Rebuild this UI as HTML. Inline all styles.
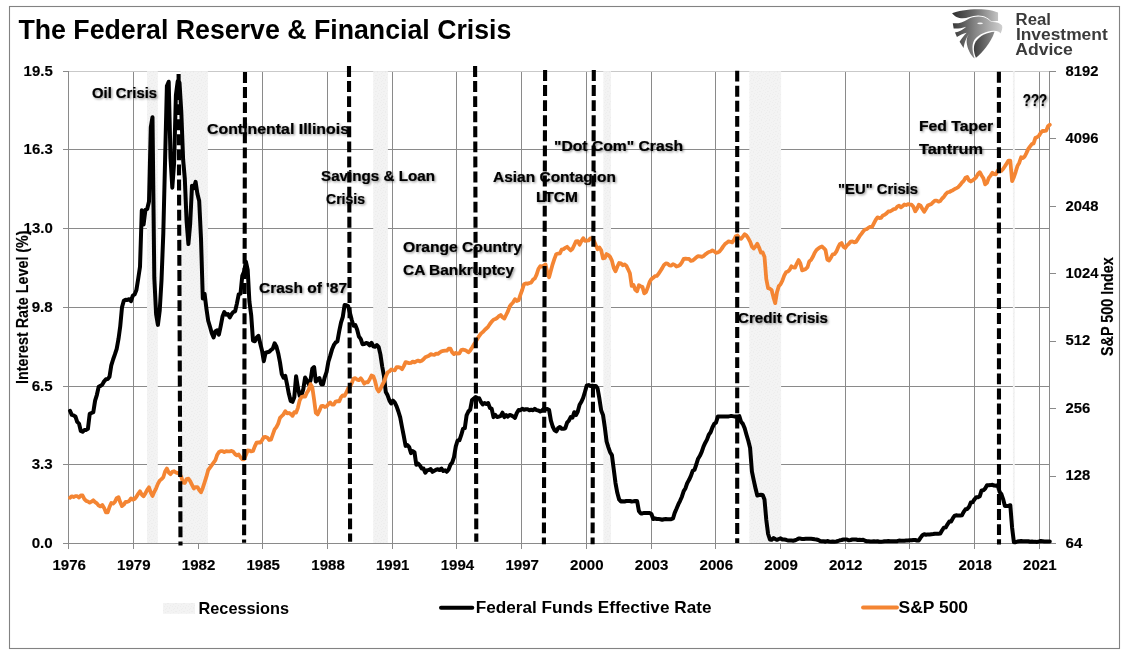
<!DOCTYPE html>
<html><head><meta charset="utf-8"><title>The Federal Reserve &amp; Financial Crisis</title>
<style>
html,body{margin:0;padding:0;background:#fff;}
body{width:1127px;height:656px;overflow:hidden;font-family:"Liberation Sans",sans-serif;}
svg{display:block;will-change:transform;}
text{font-family:"Liberation Sans",sans-serif;font-weight:bold;fill:#000;}
.ax{font-size:15.5px;stroke:#000;stroke-width:0.15px;}
.lb{font-size:15px;}
.lg{font-size:16.9px;}
</style></head><body>
<svg width="1127" height="656" viewBox="0 0 1127 656">
<defs>
<filter id="sh" x="-10%" y="-30%" width="130%" height="180%"><feDropShadow dx="1.2" dy="1.2" stdDeviation="0.8" flood-color="#000" flood-opacity="0.42"/></filter>
<pattern id="dots" width="8" height="8" patternUnits="userSpaceOnUse"><rect width="8" height="8" fill="#f3f3f3"/><g fill="#ededed"><rect x="1" y="0" width="1" height="1"/><rect x="5" y="1" width="1" height="1"/><rect x="3" y="2" width="1" height="1"/><rect x="7" y="3" width="1" height="1"/><rect x="0" y="3" width="1" height="1"/><rect x="2" y="5" width="1" height="1"/><rect x="5" y="4" width="1" height="1"/><rect x="4" y="6" width="1" height="1"/><rect x="7" y="6" width="1" height="1"/><rect x="1" y="7" width="1" height="1"/><rect x="6" y="0" width="1" height="1"/></g></pattern>
<linearGradient id="lgA" gradientUnits="userSpaceOnUse" x1="80" y1="0" x2="600" y2="0"><stop offset="0" stop-color="#2e2e2e"/><stop offset="0.5" stop-color="#6e6e6e"/><stop offset="1" stop-color="#c4c4c4"/></linearGradient>
<linearGradient id="lgB" gradientUnits="userSpaceOnUse" x1="90" y1="0" x2="650" y2="0"><stop offset="0" stop-color="#3a3a3a"/><stop offset="0.45" stop-color="#858585"/><stop offset="1" stop-color="#d0d0d0"/></linearGradient>
<linearGradient id="lgC" gradientUnits="userSpaceOnUse" x1="320" y1="0" x2="560" y2="0"><stop offset="0" stop-color="#3c3c3c"/><stop offset="1" stop-color="#8c8c8c"/></linearGradient>
<linearGradient id="lg1" x1="0" y1="0" x2="1" y2="0"><stop offset="0" stop-color="#555"/><stop offset="1" stop-color="#bbb"/></linearGradient>
</defs>
<rect x="0" y="0" width="1127" height="656" fill="#fff"/>
<rect x="9.5" y="6.5" width="1110" height="642" fill="#fff" stroke="#828282" stroke-width="1.1"/>

<path d="M68.5 71.5 V549 M133.5 71.5 V549 M198.5 71.5 V549 M262.5 71.5 V549 M327.5 71.5 V549 M392.5 71.5 V549 M456.5 71.5 V549 M521.5 71.5 V549 M586.5 71.5 V549 M651.5 71.5 V549 M715.5 71.5 V549 M780.5 71.5 V549 M845.5 71.5 V549 M909.5 71.5 V549 M974.5 71.5 V549 M1039.5 71.5 V549 M1049.5 71.5 V543.5 M63 71.5 H1050 M63 149.5 H1050 M63 228.5 H1050 M63 307.5 H1050 M63 386.5 H1050 M63 464.5 H1050 M63 543.5 H1050 M1049 71.5 H1055.5 M1049 138.5 H1055.5 M1049 206.5 H1055.5 M1049 273.5 H1055.5 M1049 341.5 H1055.5 M1049 408.5 H1055.5 M1049 476.5 H1055.5 M1049 543.5 H1055.5" stroke="#8a8a8a" stroke-width="1" fill="none" shape-rendering="crispEdges"/>
<path d="M69 71.5 H1049" stroke="#c9c9c9" stroke-width="1" fill="none" shape-rendering="crispEdges"/>
<rect x="147" y="71.2" width="10.8" height="471.8" fill="url(#dots)"/>
<rect x="180.6" y="71.2" width="27.3" height="471.8" fill="url(#dots)"/>
<rect x="373.2" y="71.2" width="14.7" height="471.8" fill="url(#dots)"/>
<rect x="603.3" y="71.2" width="7.7" height="471.8" fill="url(#dots)"/>
<rect x="749.3" y="71.2" width="31.8" height="471.8" fill="url(#dots)"/>
<rect x="1012.9" y="71.2" width="1.9" height="471.8" fill="url(#dots)"/>
<polyline points="70.0,410.8 71.8,414.9 73.6,415.4 75.4,416.4 77.2,421.9 79.0,423.6 80.8,430.9 82.6,431.8 84.4,430.1 86.2,429.9 87.9,428.9 89.7,413.9 91.5,413.0 93.3,412.2 95.1,400.6 96.9,394.8 98.7,386.8 100.5,385.9 102.3,384.6 104.1,381.3 105.9,379.3 107.7,379.1 109.5,376.7 111.3,365.3 113.1,359.5 114.9,354.4 116.7,348.8 118.5,338.9 120.2,326.6 122.0,307.2 123.8,300.7 125.6,299.7 127.4,299.9 129.2,299.2 131.0,301.2 132.8,295.6 134.6,294.4 136.4,290.0 138.2,278.7 140.0,266.8 141.8,210.2 143.6,224.4 145.4,209.9 147.2,209.0 149.0,201.5 150.8,127.4 152.5,117.2 154.3,277.7 156.1,314.2 157.9,324.9 159.7,310.8 161.5,280.3 163.3,233.4 165.1,159.8 166.9,86.0 168.7,81.7 170.5,157.9 172.3,187.7 174.1,163.0 175.9,95.2 177.7,81.2 179.5,82.6 181.3,112.2 183.1,159.3 184.8,178.5 186.6,221.3 188.4,244.0 190.2,223.5 192.0,185.7 193.8,188.1 195.6,181.9 197.4,193.7 199.2,201.0 201.0,238.7 202.8,298.5 204.6,293.9 206.4,308.4 208.2,320.8 210.0,326.8 211.8,333.3 213.6,337.5 215.4,331.2 217.1,330.4 218.9,334.6 220.7,326.1 222.5,316.6 224.3,312.0 226.1,314.7 227.9,314.0 229.7,317.4 231.5,314.2 233.3,312.0 235.1,311.3 236.9,303.6 238.7,294.4 240.5,293.7 242.3,275.7 244.1,271.6 245.9,261.7 247.7,269.9 249.4,301.6 251.2,315.2 253.0,340.6 254.8,341.3 256.6,337.7 258.4,335.8 260.2,343.3 262.0,350.5 263.8,361.2 265.6,352.7 267.4,352.2 269.2,351.7 271.0,350.0 272.8,348.6 274.6,343.3 276.4,346.4 278.2,353.2 280.0,362.4 281.8,374.2 283.5,377.6 285.3,375.9 287.1,384.6 288.9,394.1 290.7,400.9 292.5,401.8 294.3,397.2 296.1,376.2 297.9,387.8 299.7,395.8 301.5,395.1 303.3,389.2 305.1,377.6 306.9,380.5 308.7,384.2 310.5,380.5 312.3,368.7 314.1,367.0 315.8,381.5 317.6,379.6 319.4,378.1 321.2,384.2 323.0,384.2 324.8,377.1 326.6,371.8 328.4,361.7 330.2,355.9 332.0,349.6 333.8,345.2 335.6,342.5 337.4,341.3 339.2,331.4 341.0,322.7 342.8,316.9 344.6,305.0 346.4,305.3 348.1,306.0 349.9,312.8 351.7,319.8 353.5,325.8 355.3,325.1 357.1,329.5 358.9,336.5 360.7,338.9 362.5,344.2 364.3,344.0 366.1,343.0 367.9,343.5 369.7,345.4 371.5,342.8 373.3,346.2 375.1,346.7 376.9,345.0 378.7,347.1 380.4,354.4 382.2,366.5 384.0,376.2 385.8,392.1 387.6,395.3 389.4,400.4 391.2,403.5 393.0,400.6 394.8,402.6 396.6,406.4 398.4,411.5 400.2,417.3 402.0,427.0 403.8,436.2 405.6,445.9 407.4,445.1 409.2,447.1 411.0,453.1 412.7,451.0 414.5,452.4 416.3,464.8 418.1,463.5 419.9,465.5 421.7,468.4 423.5,468.6 425.3,472.7 427.1,470.3 428.9,470.1 430.7,469.1 432.5,471.8 434.3,470.8 436.1,469.8 437.9,469.3 439.7,470.1 441.5,468.6 443.3,471.0 445.1,470.3 446.8,471.8 448.6,469.6 450.4,464.8 452.2,462.6 454.0,457.2 455.8,446.4 457.6,440.5 459.4,440.3 461.2,435.2 463.0,428.9 464.8,428.2 466.6,415.4 468.4,411.5 470.2,409.6 472.0,400.1 473.8,398.7 475.6,397.0 477.4,398.0 479.1,398.2 480.9,401.8 482.7,404.5 484.5,403.0 486.3,404.0 488.1,403.0 489.9,407.9 491.7,408.8 493.5,417.1 495.3,414.9 497.1,417.1 498.9,416.6 500.7,415.9 502.5,412.7 504.3,417.1 506.1,415.1 507.9,416.6 509.7,414.9 511.4,415.4 513.2,416.4 515.0,417.8 516.8,413.0 518.6,410.1 520.4,410.3 522.2,408.8 524.0,409.8 525.8,409.3 527.6,409.3 529.4,410.3 531.2,409.8 533.0,410.3 534.8,408.8 536.6,410.1 538.4,410.5 540.2,411.5 542.0,410.5 543.7,408.8 545.5,409.3 547.3,409.1 549.1,410.1 550.9,420.7 552.7,426.5 554.5,430.1 556.3,431.4 558.1,428.2 559.9,427.0 561.7,428.7 563.5,428.7 565.3,428.2 567.1,422.6 568.9,420.7 570.7,417.1 572.5,417.6 574.3,412.2 576.0,415.1 577.8,411.5 579.6,404.7 581.4,401.8 583.2,397.7 585.0,391.7 586.8,385.4 588.6,385.1 590.4,386.1 592.2,385.6 594.0,385.9 595.8,385.9 597.6,388.5 599.4,398.7 601.2,410.5 603.0,414.9 604.8,427.2 606.6,441.5 608.4,447.3 610.1,452.2 611.9,455.1 613.7,469.1 615.5,483.1 617.3,492.8 619.1,499.4 620.9,501.5 622.7,501.3 624.5,501.5 626.3,501.0 628.1,501.0 629.9,501.0 631.7,501.5 633.5,501.3 635.3,501.0 637.1,501.0 638.9,511.0 640.7,513.4 642.4,513.4 644.2,512.9 646.0,513.1 647.8,512.9 649.6,512.9 651.4,513.9 653.2,519.0 655.0,518.5 656.8,519.0 658.6,519.0 660.4,519.2 662.2,519.7 664.0,519.2 665.8,519.0 667.6,519.2 669.4,519.2 671.2,519.2 673.0,518.5 674.7,512.9 676.5,508.8 678.3,504.4 680.1,500.8 681.9,496.7 683.7,491.1 685.5,488.2 687.3,482.9 689.1,479.8 690.9,475.9 692.7,470.8 694.5,469.8 696.3,464.5 698.1,458.7 699.9,455.8 701.7,451.9 703.5,446.6 705.3,442.7 707.0,439.6 708.8,434.7 710.6,432.3 712.4,427.5 714.2,423.9 716.0,422.6 717.8,416.6 719.6,416.4 721.4,416.4 723.2,416.4 725.0,416.4 726.8,416.6 728.6,416.4 730.4,416.1 732.2,416.1 734.0,416.4 735.8,416.4 737.6,416.4 739.3,416.1 741.1,421.9 742.9,423.9 744.7,428.2 746.5,434.7 748.3,440.8 750.1,448.1 751.9,471.3 753.7,480.2 755.5,488.2 757.3,495.5 759.1,495.0 760.9,494.8 762.7,495.0 764.5,499.6 766.3,519.9 768.1,534.0 769.9,539.5 771.6,539.8 773.4,538.1 775.2,539.0 777.0,539.8 778.8,539.0 780.6,538.3 782.4,539.5 784.2,539.5 786.0,539.8 787.8,540.5 789.6,540.5 791.4,540.5 793.2,540.7 795.0,540.3 796.8,539.5 798.6,538.6 800.4,538.6 802.2,539.0 804.0,539.0 805.7,538.8 807.5,538.8 809.3,538.8 811.1,538.8 812.9,539.0 814.7,539.3 816.5,539.5 818.3,540.0 820.1,541.0 821.9,541.2 823.7,541.2 825.5,541.7 827.3,541.0 829.1,541.5 830.9,541.7 832.7,541.5 834.5,541.7 836.3,541.5 838.0,541.0 839.8,540.3 841.6,540.0 843.4,539.5 845.2,539.5 847.0,539.5 848.8,540.3 850.6,540.0 852.4,539.5 854.2,539.5 856.0,539.5 857.8,540.0 859.6,539.8 861.4,540.0 863.2,539.8 865.0,540.7 866.8,541.2 868.6,541.2 870.3,541.5 872.1,541.5 873.9,541.2 875.7,541.5 877.5,541.2 879.3,541.7 881.1,541.7 882.9,541.5 884.7,541.2 886.5,541.2 888.3,541.0 890.1,541.2 891.9,541.2 893.7,541.2 895.5,541.2 897.3,541.2 899.1,540.5 900.9,540.7 902.6,540.7 904.4,540.7 906.2,540.5 908.0,540.5 909.8,540.3 911.6,540.3 913.4,540.0 915.2,540.0 917.0,540.5 918.8,540.5 920.6,537.6 922.4,535.2 924.2,534.2 926.0,534.7 927.8,534.4 929.6,534.4 931.4,534.2 933.2,534.0 934.9,533.7 936.7,533.7 938.5,533.7 940.3,533.5 942.1,530.3 943.9,527.7 945.7,527.4 947.5,524.3 949.3,521.6 951.1,521.4 952.9,518.2 954.7,515.6 956.5,515.3 958.3,515.6 960.1,515.6 961.9,515.3 963.7,511.9 965.5,509.3 967.2,509.0 969.0,506.9 970.8,502.5 972.6,502.3 974.4,499.4 976.2,497.2 978.0,497.2 979.8,496.2 981.6,490.4 983.4,490.2 985.2,488.5 987.0,485.3 988.8,485.3 990.6,485.1 992.4,484.8 994.2,485.6 996.0,485.8 997.8,485.3 999.6,491.9 1001.3,494.0 1003.1,499.1 1004.9,505.9 1006.7,505.9 1008.5,505.9 1010.3,505.2 1012.1,527.7 1013.9,542.2 1015.7,542.2 1017.5,541.5 1019.3,541.2 1021.1,541.0 1022.9,541.2 1024.7,541.2 1026.5,541.2 1028.3,541.2 1030.1,541.7 1031.9,541.5 1033.6,541.7 1035.4,541.7 1037.2,541.9 1039.0,541.5 1040.8,541.0 1042.6,541.2 1044.4,541.5 1046.2,541.5 1048.0,541.5 1049.8,541.5" fill="none" stroke="#000" stroke-width="4" stroke-linejoin="round" stroke-linecap="round"/>
<polyline points="70.0,497.8 71.8,496.3 73.6,497.0 75.4,496.1 77.2,496.1 79.0,497.6 80.8,495.5 82.6,495.5 84.4,499.1 86.2,500.9 87.9,501.5 89.7,502.7 91.5,501.7 93.3,500.3 95.1,502.1 96.9,503.3 98.7,505.6 100.5,506.4 102.3,505.0 104.1,507.9 105.9,512.3 107.7,512.3 109.5,507.0 111.3,502.9 113.1,503.6 114.9,501.9 116.7,498.1 118.5,497.2 120.2,502.1 122.0,506.1 123.8,504.6 125.6,501.9 127.4,501.9 129.2,501.0 131.0,498.4 132.8,499.6 134.6,499.0 136.4,496.8 138.2,493.8 140.0,491.3 141.8,494.7 143.6,496.2 145.4,493.4 147.2,489.8 149.0,487.3 150.8,492.6 152.5,496.0 154.3,491.8 156.1,488.3 157.9,483.9 159.7,480.6 161.5,479.1 163.3,477.2 165.1,471.5 166.9,468.6 168.7,472.5 170.5,474.2 172.3,471.8 174.1,471.2 175.9,472.5 177.7,473.1 179.5,473.7 181.3,476.9 183.1,482.7 184.8,483.0 186.6,479.0 188.4,478.7 190.2,481.1 192.0,484.9 193.8,488.5 195.6,487.1 197.4,487.1 199.2,490.1 201.0,492.2 202.8,487.9 204.6,482.3 206.4,476.7 208.2,470.0 210.0,467.6 211.8,465.2 213.6,462.7 215.4,460.2 217.1,455.1 218.9,452.2 220.7,451.1 222.5,451.1 224.3,452.2 226.1,451.2 227.9,451.4 229.7,451.3 231.5,450.9 233.3,451.8 235.1,454.1 236.9,455.4 238.7,454.5 240.5,457.2 242.3,459.4 244.1,459.3 245.9,455.1 247.7,450.5 249.4,450.6 251.2,451.4 253.0,451.0 254.8,446.4 256.6,442.6 258.4,442.3 260.2,442.7 262.0,440.3 263.8,437.2 265.6,436.9 267.4,437.7 269.2,440.0 271.0,439.7 272.8,434.5 274.6,429.4 276.4,427.1 278.2,423.6 280.0,417.8 281.8,416.0 283.5,414.3 285.3,411.2 287.1,413.4 288.9,413.0 290.7,414.0 292.5,415.8 294.3,412.2 296.1,412.6 297.9,407.8 299.7,400.2 301.5,397.1 303.3,396.4 305.1,396.7 306.9,392.7 308.7,389.9 310.5,384.1 312.3,387.3 314.1,399.8 315.8,412.8 317.6,414.4 319.4,410.7 321.2,406.2 323.0,405.8 324.8,407.0 326.6,406.4 328.4,404.2 330.2,402.4 332.0,404.6 333.8,404.6 335.6,401.5 337.4,401.1 339.2,401.4 341.0,397.3 342.8,395.4 344.6,395.8 346.4,392.4 348.1,388.4 349.9,387.1 351.7,383.3 353.5,378.5 355.3,378.1 357.1,379.6 358.9,380.1 360.7,378.2 362.5,380.6 364.3,383.7 366.1,382.1 367.9,382.3 369.7,379.3 371.5,375.5 373.3,376.2 375.1,381.2 376.9,388.6 378.7,391.5 380.4,389.0 382.2,385.0 384.0,381.8 385.8,376.6 387.6,372.4 389.4,371.4 391.2,369.5 393.0,370.0 394.8,370.3 396.6,367.2 398.4,367.2 400.2,367.6 402.0,369.2 403.8,366.1 405.6,362.1 407.4,362.6 409.2,363.2 411.0,362.9 412.7,361.6 414.5,362.4 416.3,361.3 418.1,360.6 419.9,361.4 421.7,360.8 423.5,359.3 425.3,357.3 427.1,356.5 428.9,355.7 430.7,354.2 432.5,354.6 434.3,354.8 436.1,353.6 437.9,353.9 439.7,352.5 441.5,351.3 443.3,350.9 445.1,350.6 446.8,350.7 448.6,348.7 450.4,348.6 452.2,352.3 454.0,354.1 455.8,352.9 457.6,353.6 459.4,353.4 461.2,350.1 463.0,349.7 464.8,350.0 466.6,350.9 468.4,352.3 470.2,350.6 472.0,347.7 473.8,344.6 475.6,342.0 477.4,338.9 479.1,336.1 480.9,333.6 482.7,332.1 484.5,330.2 486.3,328.5 488.1,326.8 489.9,324.0 491.7,321.6 493.5,319.7 495.3,319.0 497.1,318.0 498.9,316.2 500.7,315.0 502.5,317.2 504.3,318.6 506.1,315.0 507.9,311.3 509.7,306.5 511.4,304.2 513.2,302.3 515.0,299.2 516.8,301.0 518.6,300.3 520.4,294.8 522.2,290.0 524.0,284.2 525.8,283.4 527.6,283.8 529.4,283.0 531.2,282.6 533.0,279.7 534.8,278.5 536.6,274.6 538.4,269.0 540.2,266.2 542.0,266.7 543.7,265.7 545.5,264.4 547.3,272.3 549.1,277.3 550.9,270.6 552.7,264.1 554.5,258.6 556.3,254.0 558.1,253.7 559.9,253.4 561.7,249.7 563.5,249.2 565.3,247.8 567.1,246.8 568.9,248.7 570.7,250.4 572.5,248.8 574.3,245.0 576.0,241.3 577.8,241.1 579.6,244.7 581.4,241.1 583.2,238.2 585.0,240.8 586.8,240.7 588.6,240.4 590.4,238.3 592.2,238.1 594.0,241.1 595.8,245.3 597.6,249.2 599.4,247.4 601.2,250.3 603.0,258.3 604.8,257.9 606.6,254.1 608.4,255.1 610.1,256.9 611.9,260.6 613.7,267.9 615.5,271.3 617.3,266.8 619.1,263.0 620.9,263.4 622.7,265.2 624.5,264.4 626.3,265.7 628.1,269.3 629.9,273.3 631.7,285.9 633.5,284.9 635.3,289.8 637.1,291.3 638.9,285.2 640.7,286.4 642.4,286.8 644.2,293.3 646.0,292.2 647.8,287.4 649.6,282.0 651.4,279.1 653.2,277.8 655.0,276.1 656.8,275.9 658.6,273.8 660.4,270.9 662.2,268.1 664.0,264.9 665.8,263.5 667.6,263.7 669.4,265.3 671.2,265.6 673.0,264.1 674.7,264.9 676.5,266.5 678.3,266.0 680.1,264.8 681.9,262.3 683.7,258.9 685.5,258.6 687.3,258.9 689.1,259.0 690.9,260.9 692.7,260.4 694.5,259.0 696.3,257.3 698.1,256.1 699.9,256.3 701.7,256.9 703.5,256.1 705.3,254.4 707.0,253.2 708.8,252.0 710.6,251.5 712.4,250.3 714.2,251.3 716.0,252.8 717.8,252.5 719.6,251.3 721.4,249.1 723.2,246.4 725.0,244.1 726.8,242.7 728.6,241.4 730.4,241.8 732.2,242.4 734.0,239.8 735.8,236.2 737.6,235.5 739.3,238.0 741.1,238.9 742.9,236.6 744.7,234.2 746.5,235.6 748.3,238.3 750.1,241.7 751.9,246.5 753.7,248.6 755.5,246.6 757.3,243.8 759.1,247.6 760.9,252.5 762.7,252.4 764.5,256.9 766.3,279.1 768.1,288.2 769.9,288.7 771.6,290.0 773.4,297.1 775.2,303.1 777.0,292.1 778.8,286.1 780.6,284.2 782.4,280.7 784.2,275.7 786.0,272.3 787.8,271.6 789.6,269.8 791.4,266.3 793.2,267.3 795.0,267.7 796.8,263.6 798.6,260.1 800.4,263.5 802.2,270.4 804.0,269.8 805.7,269.0 807.5,267.2 809.3,261.4 811.1,259.8 812.9,256.8 814.7,252.7 816.5,250.0 818.3,248.6 820.1,247.2 821.9,246.5 823.7,248.1 825.5,250.1 827.3,259.5 829.1,260.5 830.9,257.7 832.7,254.3 834.5,254.2 836.3,251.7 838.0,247.7 839.8,244.2 841.6,243.1 843.4,246.6 845.2,247.9 847.0,245.4 848.8,243.8 850.6,241.7 852.4,241.5 854.2,242.3 856.0,241.9 857.8,239.1 859.6,236.2 861.4,233.9 863.2,231.4 865.0,229.5 866.8,229.2 868.6,227.6 870.3,226.8 872.1,226.9 873.9,223.4 875.7,219.9 877.5,217.4 879.3,218.0 881.1,217.8 882.9,215.4 884.7,214.7 886.5,213.4 888.3,211.5 890.1,211.3 891.9,210.3 893.7,209.2 895.5,208.9 897.3,206.6 899.1,205.6 900.9,207.3 902.6,206.2 904.4,204.5 906.2,205.0 908.0,204.1 909.8,204.6 911.6,204.7 913.4,206.8 915.2,211.3 917.0,208.7 918.8,204.8 920.6,205.7 922.4,209.0 924.2,211.8 926.0,208.8 927.8,205.6 929.6,204.8 931.4,204.0 933.2,202.2 934.9,200.6 936.7,200.7 938.5,201.7 940.3,201.0 942.1,198.5 943.9,196.8 945.7,194.1 947.5,192.4 949.3,192.0 951.1,191.0 952.9,190.2 954.7,189.0 956.5,188.1 958.3,187.1 960.1,185.1 961.9,182.7 963.7,180.9 965.5,177.7 967.2,177.0 969.0,180.3 970.8,181.5 972.6,180.3 974.4,179.0 976.2,177.1 978.0,173.9 979.8,172.2 981.6,175.5 983.4,178.2 985.2,184.4 987.0,182.9 988.8,177.9 990.6,175.6 992.4,172.8 994.2,174.2 996.0,174.3 997.8,170.5 999.6,170.7 1001.3,170.8 1003.1,169.0 1004.9,166.3 1006.7,163.4 1008.5,160.6 1010.3,160.6 1012.1,181.2 1013.9,177.2 1015.7,171.8 1017.5,165.9 1019.3,162.7 1021.1,157.3 1022.9,158.0 1024.7,156.5 1026.5,152.9 1028.3,148.9 1030.1,146.4 1031.9,144.1 1033.6,143.4 1035.4,137.8 1037.2,137.2 1039.0,135.6 1040.8,132.8 1042.6,130.8 1044.4,131.0 1046.2,130.6 1048.0,126.2 1049.8,124.7" fill="none" stroke="#f48533" stroke-width="3.8" stroke-linejoin="round" stroke-linecap="round"/>
<line x1="178.6" y1="74" x2="180.5" y2="545.6" stroke="#000" stroke-width="4.1" stroke-dasharray="10.9 4.18"/>
<line x1="245.0" y1="72" x2="244.1" y2="542.7" stroke="#000" stroke-width="4.1" stroke-dasharray="10.9 4.18"/>
<line x1="349" y1="66" x2="350.1" y2="541.7" stroke="#000" stroke-width="4.1" stroke-dasharray="10.9 4.18"/>
<line x1="475.1" y1="66" x2="476.3" y2="541.7" stroke="#000" stroke-width="4.1" stroke-dasharray="10.9 4.18"/>
<line x1="545.1" y1="70" x2="543.9" y2="544.2" stroke="#000" stroke-width="4.1" stroke-dasharray="10.9 4.18"/>
<line x1="593.8" y1="70" x2="592.6" y2="544.2" stroke="#000" stroke-width="4.1" stroke-dasharray="10.9 4.18"/>
<line x1="737.2" y1="70.7" x2="737.2" y2="543.1" stroke="#000" stroke-width="4.1" stroke-dasharray="10.9 4.18"/>
<line x1="998.9" y1="71.8" x2="999" y2="544.6" stroke="#000" stroke-width="4.1" stroke-dasharray="10.9 4.18"/>
<text class="ax" x="23.6" y="75.7" textLength="29.1" lengthAdjust="spacingAndGlyphs">19.5</text>
<text class="ax" x="23.6" y="153.7" textLength="29.1" lengthAdjust="spacingAndGlyphs">16.3</text>
<text class="ax" x="23.6" y="232.7" textLength="29.1" lengthAdjust="spacingAndGlyphs">13.0</text>
<text class="ax" x="31.7" y="311.7" textLength="21.0" lengthAdjust="spacingAndGlyphs">9.8</text>
<text class="ax" x="31.7" y="390.7" textLength="21.0" lengthAdjust="spacingAndGlyphs">6.5</text>
<text class="ax" x="31.7" y="468.7" textLength="21.0" lengthAdjust="spacingAndGlyphs">3.3</text>
<text class="ax" x="31.7" y="547.7" textLength="21.0" lengthAdjust="spacingAndGlyphs">0.0</text>
<text class="ax" x="1065.6" y="75.7" textLength="32.9" lengthAdjust="spacingAndGlyphs">8192</text>
<text class="ax" x="1065.6" y="143.1" textLength="32.9" lengthAdjust="spacingAndGlyphs">4096</text>
<text class="ax" x="1065.6" y="210.5" textLength="32.9" lengthAdjust="spacingAndGlyphs">2048</text>
<text class="ax" x="1065.6" y="277.9" textLength="32.9" lengthAdjust="spacingAndGlyphs">1024</text>
<text class="ax" x="1065.6" y="345.4" textLength="24.8" lengthAdjust="spacingAndGlyphs">512</text>
<text class="ax" x="1065.6" y="412.8" textLength="24.8" lengthAdjust="spacingAndGlyphs">256</text>
<text class="ax" x="1065.6" y="480.2" textLength="24.8" lengthAdjust="spacingAndGlyphs">128</text>
<text class="ax" x="1065.6" y="547.6" textLength="16.7" lengthAdjust="spacingAndGlyphs">64</text>
<text class="ax" x="52.4" y="569.7" textLength="33.5" lengthAdjust="spacingAndGlyphs">1976</text>
<text class="ax" x="117.1" y="569.7" textLength="33.5" lengthAdjust="spacingAndGlyphs">1979</text>
<text class="ax" x="181.8" y="569.7" textLength="33.5" lengthAdjust="spacingAndGlyphs">1982</text>
<text class="ax" x="246.5" y="569.7" textLength="33.5" lengthAdjust="spacingAndGlyphs">1985</text>
<text class="ax" x="311.3" y="569.7" textLength="33.5" lengthAdjust="spacingAndGlyphs">1988</text>
<text class="ax" x="376.0" y="569.7" textLength="33.5" lengthAdjust="spacingAndGlyphs">1991</text>
<text class="ax" x="440.7" y="569.7" textLength="33.5" lengthAdjust="spacingAndGlyphs">1994</text>
<text class="ax" x="505.4" y="569.7" textLength="33.5" lengthAdjust="spacingAndGlyphs">1997</text>
<text class="ax" x="570.1" y="569.7" textLength="33.5" lengthAdjust="spacingAndGlyphs">2000</text>
<text class="ax" x="634.8" y="569.7" textLength="33.5" lengthAdjust="spacingAndGlyphs">2003</text>
<text class="ax" x="699.6" y="569.7" textLength="33.5" lengthAdjust="spacingAndGlyphs">2006</text>
<text class="ax" x="764.3" y="569.7" textLength="33.5" lengthAdjust="spacingAndGlyphs">2009</text>
<text class="ax" x="829.0" y="569.7" textLength="33.5" lengthAdjust="spacingAndGlyphs">2012</text>
<text class="ax" x="893.7" y="569.7" textLength="33.5" lengthAdjust="spacingAndGlyphs">2015</text>
<text class="ax" x="958.4" y="569.7" textLength="33.5" lengthAdjust="spacingAndGlyphs">2018</text>
<text class="ax" x="1023.1" y="569.7" textLength="33.5" lengthAdjust="spacingAndGlyphs">2021</text>
<text x="-76.7" y="0" font-size="15.8" stroke="#000" stroke-width="0.15" textLength="153.5" lengthAdjust="spacingAndGlyphs" transform="translate(27.6,307.2) rotate(-90)">Interest Rate Level (%)</text>
<text x="-49.3" y="0" font-size="15.8" stroke="#000" stroke-width="0.15" textLength="98.7" lengthAdjust="spacingAndGlyphs" transform="translate(1112.6,306.7) rotate(-90)">S&amp;P 500 Index</text>
<text x="18.4" y="39.2" font-size="27.8" textLength="493" lengthAdjust="spacingAndGlyphs">The Federal Reserve &amp; Financial Crisis</text>
<g filter="url(#sh)" stroke="#000" stroke-width="0.22">
<text x="92" y="98" font-size="15.3" textLength="65" lengthAdjust="spacingAndGlyphs">Oil Crisis</text>
<text x="207" y="134" font-size="15.3" textLength="142" lengthAdjust="spacingAndGlyphs">Continental Illinois</text>
<text x="321" y="181" font-size="15.3" textLength="114" lengthAdjust="spacingAndGlyphs">Savings &amp; Loan</text>
<text x="326" y="204" font-size="15.3" textLength="39" lengthAdjust="spacingAndGlyphs">Crisis</text>
<text x="403" y="252" font-size="15.3" textLength="119" lengthAdjust="spacingAndGlyphs">Orange Country</text>
<text x="403" y="275" font-size="15.3" textLength="111" lengthAdjust="spacingAndGlyphs">CA Bankruptcy</text>
<text x="259" y="293" font-size="15.3" textLength="88" lengthAdjust="spacingAndGlyphs">Crash of '87</text>
<text x="493" y="182" font-size="15.3" textLength="123" lengthAdjust="spacingAndGlyphs">Asian Contagion</text>
<text x="536" y="202" font-size="15.3" textLength="42" lengthAdjust="spacingAndGlyphs">LTCM</text>
<text x="554" y="151" font-size="15.3" textLength="129" lengthAdjust="spacingAndGlyphs">&quot;Dot Com&quot; Crash</text>
<text x="738" y="323" font-size="15.3" textLength="90" lengthAdjust="spacingAndGlyphs">Credit Crisis</text>
<text x="838" y="194" font-size="15.3" textLength="80" lengthAdjust="spacingAndGlyphs">&quot;EU&quot; Crisis</text>
<text x="919" y="131" font-size="15.3" textLength="74" lengthAdjust="spacingAndGlyphs">Fed Taper</text>
<text x="919" y="154" font-size="15.3" textLength="64" lengthAdjust="spacingAndGlyphs">Tantrum</text>
<text x="1022.8" y="106.2" font-size="16.4" textLength="24.4" lengthAdjust="spacingAndGlyphs">???</text>
</g>
<rect x="163" y="603" width="32" height="10.8" fill="url(#dots)"/>
<text class="lg" x="198.5" y="613.5" textLength="90.6" lengthAdjust="spacingAndGlyphs">Recessions</text>
<line x1="441" y1="607.8" x2="472.3" y2="607.8" stroke="#000" stroke-width="4" stroke-linecap="round"/>
<text class="lg" x="475.7" y="613.4" textLength="235.8" lengthAdjust="spacingAndGlyphs">Federal Funds Effective Rate</text>
<line x1="863" y1="607.5" x2="897" y2="607.5" stroke="#f48533" stroke-width="3.8" stroke-linecap="round"/>
<text class="lg" x="898.5" y="613.3" textLength="69.6" lengthAdjust="spacingAndGlyphs">S&amp;P 500</text>
<g transform="translate(945,5) scale(0.08842)">
<path d="M80 92 C150 62 300 40 450 50 C520 56 570 70 600 85 L600 182 C570 180 545 185 525 188 C500 150 440 115 370 118 C300 122 250 150 200 150 C150 150 105 125 80 92 Z" fill="url(#lgA)"/>
<path d="M88 205 C140 212 200 200 250 166 C300 136 380 120 440 138 C480 152 505 174 525 192 C570 188 620 200 645 232 C655 260 640 300 628 322 C615 300 590 290 545 292 C470 298 390 330 340 385 C305 430 300 500 335 605 C290 570 250 490 245 420 C243 380 255 350 270 330 C245 360 220 420 210 485 L165 415 C190 380 215 345 245 315 C205 325 165 345 135 362 L113 310 C160 300 205 280 240 245 C190 262 140 268 98 265 Z" fill="url(#lgB)"/>
<path d="M560 303 C480 310 395 345 350 410 C318 460 320 530 350 597 C420 540 520 430 560 303 Z" fill="url(#lgC)"/>
<ellipse cx="397" cy="208" rx="32" ry="9" fill="#f4f4f4"/>
</g>

<g fill="#3b3b3b">
<text x="1015.6" y="24.5" font-size="15.6" style="fill:#3b3b3b" textLength="35.4" lengthAdjust="spacingAndGlyphs">Real</text>
<text x="1015.9" y="39.8" font-size="15.6" style="fill:#3b3b3b" textLength="91.8" lengthAdjust="spacingAndGlyphs">Investment</text>
<text x="1015.2" y="55.3" font-size="15.6" style="fill:#3b3b3b" textLength="57.7" lengthAdjust="spacingAndGlyphs">Advice</text>
</g>
</svg></body></html>
